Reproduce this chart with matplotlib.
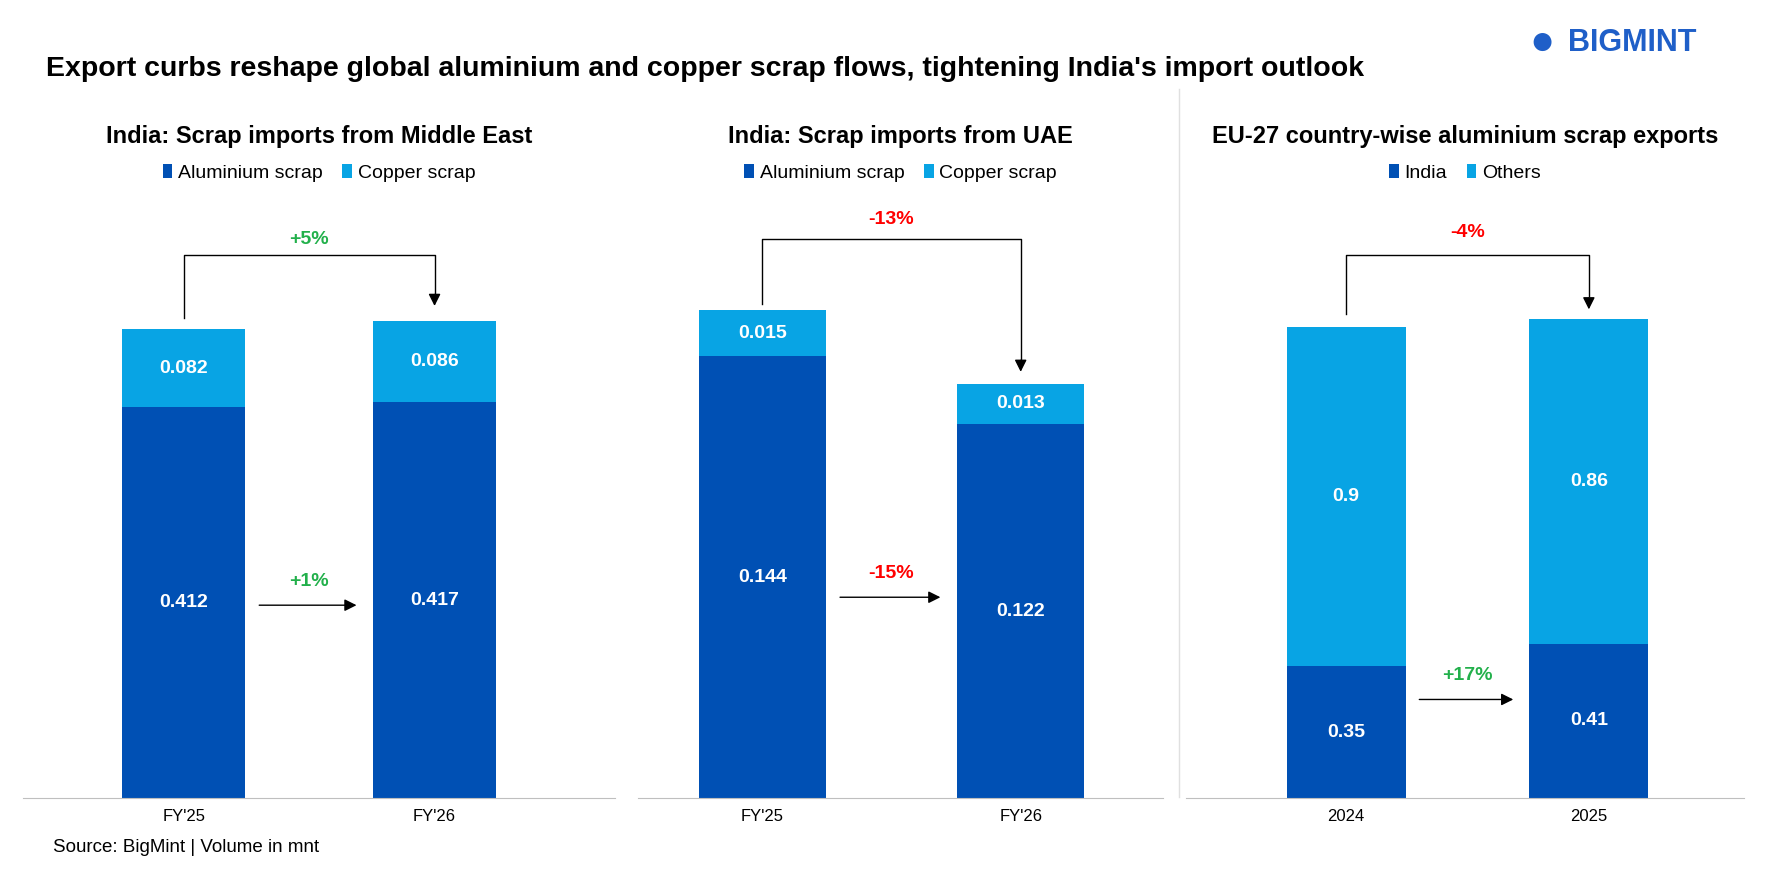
import numpy as np
import matplotlib.pyplot as plt

# Data (volume in mnt)
me_cats = ["FY'25", "FY'26"]
me_alu = [0.412, 0.417]
me_cu = [0.082, 0.086]

uae_cats = ["FY'25", "FY'26"]
uae_alu = [0.144, 0.122]
uae_cu = [0.015, 0.013]

eu_cats = ["2024", "2025"]
eu_india = [0.35, 0.41]
eu_others = [0.9, 0.86]

dark = '#0050B4'
light = '#08A4E4'
green = '#22B04B'
red = '#FF0000'

plt.rcParams['font.family'] = 'Liberation Sans'

fig = plt.figure(figsize=(17.78, 8.86), dpi=100)

# panel settings: axes rect, xlim, ymax, data, labels
panels = [
    ([0.013, 0.099, 0.333, 0.641], (-0.64, 1.72), 0.598, me_cats, me_alu, me_cu,
     'India: Scrap imports from Middle East', ['Aluminium scrap', 'Copper scrap'],
     (225, 280, 272, '+5%', green, 211), (533, '+1%', green)),
    ([0.359, 0.099, 0.295, 0.641], (-0.48, 1.55), 0.185, uae_cats, uae_alu, uae_cu,
     'India: Scrap imports from UAE', ['Aluminium scrap', 'Copper scrap'],
     (211, 268, 330, '-13%', red, 193), (526, '-15%', red)),
    ([0.667, 0.099, 0.314, 0.641], (-0.66, 1.64), 1.506, eu_cats, eu_india, eu_others,
     'EU-27 country-wise aluminium scrap exports', ['India', 'Others'],
     (225, 277, 275, '-4%', red, 205), (616, '+17%', green)),
]

def ydat(ypix, ymax):
    return (703 - ypix) / 500 * ymax  # reference pixel row -> data value

for rect, xl, ymax, cats, low, high, title, names, brk, mid in panels:
    ax = fig.add_axes(rect)
    x = np.arange(len(cats))
    ax.bar(x, low, width=0.49, color=dark, label=names[0])
    ax.bar(x, high, width=0.49, bottom=low, color=light, label=names[1])
    for i in range(len(cats)):
        ax.text(x[i], low[i] / 2, f'{low[i]:g}', ha='center', va='center',
                color='white', fontsize=14, fontweight='bold')
        ax.text(x[i], low[i] + high[i] / 2, f'{high[i]:g}', ha='center', va='center',
                color='white', fontsize=14, fontweight='bold')
    ax.set_xlim(*xl)
    ax.set_ylim(0, ymax)
    ax.set_xticks(x)
    ax.set_xticklabels(cats, fontsize=12)
    ax.tick_params(axis='x', length=0, pad=8)
    ax.set_yticks([])
    for s in ['top', 'right', 'left']:
        ax.spines[s].set_visible(False)
    ax.spines['bottom'].set_color('#BFBFBF')
    cx = rect[0] + rect[2] / 2
    fig.text(cx, 0.846, title, fontsize=17, fontweight='bold', ha='center', va='center')
    ax.legend(loc='center', bbox_to_anchor=(0.5, (0.805 - rect[1]) / rect[3]), ncol=2, frameon=False,
              fontsize=14, handlelength=0.5, handletextpad=0.3, columnspacing=1.0)
    # bracket between bar tops
    top, ystart, yend, lab, col, ylab = brk
    ax.plot([0, 0, 1, 1], [ydat(ystart, ymax), ydat(top, ymax), ydat(top, ymax), ydat(yend - 14, ymax)],
            color='black', lw=1, clip_on=False)
    ax.annotate('', xy=(1, ydat(yend, ymax)), xytext=(1, ydat(yend - 15, ymax)),
                arrowprops=dict(arrowstyle='-|>', color='black', lw=1, mutation_scale=18),
                annotation_clip=False)
    ax.text(0.5, ydat(ylab, ymax), lab, ha='center', va='center', color=col,
            fontsize=14, fontweight='bold')
    # middle arrow between lower segments
    ymid, mlab, mcol = mid
    ax.annotate('', xy=(0.7, ydat(ymid, ymax)), xytext=(0.29, ydat(ymid, ymax)),
                arrowprops=dict(arrowstyle='-|>', color='black', lw=1, mutation_scale=18))
    ax.text(0.5, ydat(ymid - 21, ymax), mlab, ha='center', va='center', color=mcol,
            fontsize=14, fontweight='bold')

# separator line
fig.add_artist(plt.Line2D([0.663, 0.663], [0.1, 0.9], color='#E0E0E0', lw=1))

fig.text(0.026, 0.922, "Export curbs reshape global aluminium and copper scrap flows, tightening India's import outlook",
         fontsize=20.5, fontweight='bold', va='center')
fig.text(0.03, 0.043, 'Source: BigMint | Volume in mnt', fontsize=13.5, va='center')
fig.text(0.867, 0.952, '\u25CF', color='#1F5FC8', fontsize=30, va='center', ha='center')
fig.text(0.882, 0.952, 'BIGMINT', color='#1F5FC8', fontsize=22, fontweight='bold', va='center')

fig.savefig('out.png', dpi=100)
